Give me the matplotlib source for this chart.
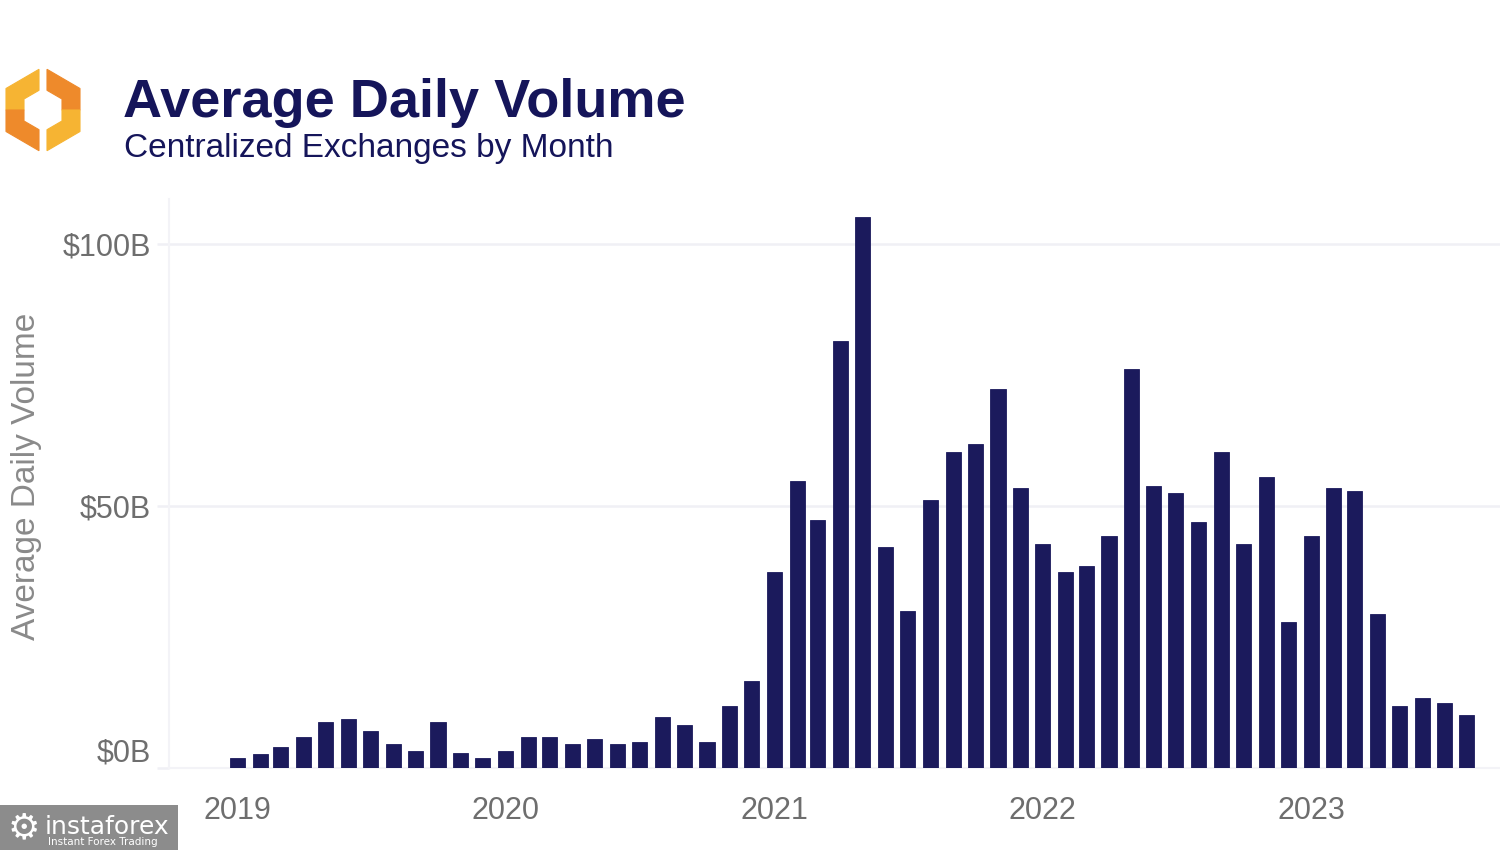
import matplotlib
matplotlib.use("Agg")
import matplotlib.pyplot as plt
import matplotlib.patches as mpatches
import matplotlib.transforms as mtransforms
import pandas as pd

# monthly average daily volume, billions USD, Jan 2019 .. Aug 2023
months = pd.date_range("2019-01-01", periods=56, freq="MS")
volume = [
    1.9, 2.7, 4.0, 5.9, 8.8, 9.4, 7.1, 4.6, 3.2, 8.8, 2.9, 1.9,        # 2019
    3.2, 5.9, 5.9, 4.6, 5.5, 4.6, 5.0, 9.7, 8.2, 5.0, 11.8, 16.6,      # 2020
    37.4, 54.8, 47.4, 81.5, 105.2, 42.2, 30.0, 51.1, 60.3, 61.8, 72.4, 53.4,  # 2021
    42.7, 37.4, 38.5, 44.3, 76.1, 53.8, 52.4, 46.9, 60.3, 42.7, 55.5, 27.9,   # 2022
    44.2, 53.4, 52.9, 29.3, 11.8, 13.4, 12.4, 10.2,                    # 2023
]
yticks = [0, 50, 100]
ytick_labels = ["$0B", "$50B", "$100B"]
years = ["2019", "2020", "2021", "2022", "2023"]

navy = "#1b1a5c"
grid_c = "#f0f0f5"
txt_c = "#6e6e6e"

fig = plt.figure(figsize=(15, 8.5), dpi=100)
ax = fig.add_axes([169 / 1500, (850 - 768) / 850, 1 - 169 / 1500, (768 - 199) / 850])

ax.bar(months, volume, width=20.5, color=navy, edgecolor=navy, linewidth=0.6, zorder=3)

ax.set_ylim(0, 108.6)
ax.set_xlim(pd.Timestamp("2018-09-30"), pd.Timestamp("2023-09-15"))
ax.set_yticks(yticks)
ax.set_yticklabels(ytick_labels)
ax.set_xticks([pd.Timestamp(y + "-01-01") for y in years])
ax.set_xticklabels(years)
ax.grid(axis="y", color=grid_c, linewidth=1.8, zorder=0)
ax.tick_params(axis="y", length=9, width=1.8, color=grid_c, labelsize=22,
               labelcolor=txt_c, pad=4)
ax.tick_params(axis="x", length=0, labelsize=22, labelcolor=txt_c, pad=20)
for s in ["top", "right"]:
    ax.spines[s].set_visible(False)
ax.spines["left"].set_color("#f3f3f7")
ax.spines["left"].set_linewidth(1.5)
ax.spines["bottom"].set_color("#f3f3f7")
ax.spines["bottom"].set_linewidth(1.5)
for lab in ax.get_yticklabels() + ax.get_xticklabels():
    lab.set_family(["Liberation Sans", "DejaVu Sans"])
# the $0B label sits a little above the baseline in the original
zero_lab = ax.get_yticklabels()[0]
zero_lab.set_transform(zero_lab.get_transform()
                       + mtransforms.ScaledTranslation(0, 18 / 100, fig.dpi_scale_trans))

fig.text(27 / 1500, 1 - 476 / 850, "Average Daily Volume", rotation=90,
         ha="center", va="center", fontsize=24, color="#8a8a8a",
         family=["Liberation Sans", "DejaVu Sans"])

# title block
fig.text(123 / 1500, 1 - 117 / 850, "Average Daily Volume", fontsize=39,
         fontweight="bold", color="#15155a", family=["Liberation Sans", "DejaVu Sans"],
         va="baseline")
fig.text(124 / 1500, 1 - 157 / 850, "Centralized Exchanges by Month", fontsize=24,
         color="#15155a", family=["Liberation Sans", "DejaVu Sans"], va="baseline")

# overlay in pixel coords for logo and watermark
ov = fig.add_axes([0, 0, 1, 1], zorder=5)
ov.set_xlim(0, 1500)
ov.set_ylim(850, 0)
ov.axis("off")

yellow = "#f6b433"
orange = "#ee8a2b"
left_up = [(39, 69.3), (6, 88.5), (6, 110), (24, 110), (24, 99), (39, 90.3)]
left_lo = [(6, 110), (6, 131.5), (39, 150.7), (39, 129.7), (24, 121), (24, 110)]
right_up = [(86 - x, y) for x, y in left_up]
right_lo = [(86 - x, y) for x, y in left_lo]
for pts, c in [(left_up, yellow), (left_lo, orange), (right_up, orange), (right_lo, yellow)]:
    ov.add_patch(mpatches.Polygon(pts, closed=True, facecolor=c, edgecolor=c, linewidth=0.8))

ov.add_patch(mpatches.Rectangle((0, 805), 178, 45, facecolor="#8c8c8c", edgecolor="none"))
ov.text(24, 828, "\u2699", fontsize=26, color="white", ha="center", va="center",
        family="DejaVu Sans")
ov.text(45, 834, "instaforex", fontsize=18, color="white", va="baseline",
        family="DejaVu Sans")
ov.text(48, 845, "Instant Forex Trading", fontsize=7.5, color="white", va="baseline",
        family="DejaVu Sans")

fig.savefig("out.png", dpi=100, facecolor="white")
